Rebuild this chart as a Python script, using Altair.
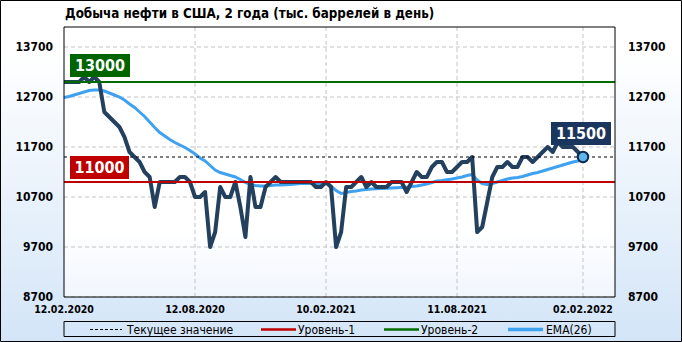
import altair as alt
import pandas as pd

# ---------------- data ----------------
start_date = "2020-02-12"
end_date = "2022-02-02"

production = [13000, 13000, 13000, 13000, 13100, 13000, 13100, 13000, 12400, 12300,
              12200, 12100, 11900, 11600, 11500, 11400, 11200, 11100, 10500, 11000,
              11000, 11000, 11000, 11100, 11100, 11000, 10700, 10700, 10800, 9700,
              10000, 10900, 10700, 10700, 11000, 10500, 9900, 11100, 10500, 10500,
              10900, 11000, 11100, 11000, 11000, 11000, 11000, 11000, 11000, 11000,
              10900, 10900, 11000, 10900, 9700, 10000, 10900, 10900, 11000, 11100,
              10900, 11000, 10900, 10900, 10900, 11000, 11000, 11000, 10800, 11000,
              11200, 11100, 11100, 11300, 11400, 11400, 11200, 11200, 11300, 11400,
              11400, 11500, 10000, 10100, 10600, 11100, 11300, 11300, 11400, 11300,
              11300, 11500, 11500, 11400, 11500, 11600, 11700, 11600, 11800, 11700,
              11700, 11700, 11600, 11500]

ema26 = [12690, 12710, 12740, 12770, 12800, 12830, 12840, 12840, 12820, 12780,
         12740, 12700, 12640, 12560, 12490, 12400, 12310, 12200, 12090, 11990,
         11920, 11850, 11790, 11740, 11690, 11630, 11560, 11480, 11420, 11330,
         11240, 11190, 11160, 11130, 11100, 11050, 10990, 10950, 10930, 10920,
         10920, 10930, 10940, 10940, 10945, 10950, 10960, 10970, 10970, 10970,
         10970, 10970, 10965, 10920, 10830, 10770, 10790, 10810, 10820, 10840,
         10850, 10860, 10865, 10870, 10875, 10880, 10885, 10890, 10895, 10910,
         10920, 10940, 10960, 10990, 11020, 11030, 11045, 11060, 11080, 11100,
         11130, 11150, 11040, 10970, 10950, 10970, 11000, 11030, 11060, 11080,
         11090, 11110, 11140, 11170, 11190, 11220, 11250, 11280, 11310, 11340,
         11370, 11400, 11420, 11450]

level_1 = 11000
level_2 = 13000
current_value = 11500

y_ticks = [8700, 9700, 10700, 11700, 12700, 13700]
x_label_text = ["12.02.2020", "12.08.2020", "10.02.2021", "11.08.2021", "02.02.2022"]
x_label_dates = ["2020-02-12", "2020-08-12", "2021-02-10", "2021-08-11", "2022-02-02"]
x_grid_dates = ["2020-08-12", "2021-02-10", "2021-08-11", "2022-02-02"]

title_text = "Добыча нефти  в США, 2 года (тыс. баррелей в день)"
legend_text = ["Текущее значение", "Уровень-1", "Уровень-2", "EMA(26)"]

# ---------------- table ----------------
dates = pd.date_range(start_date, end_date, freq="7D").strftime("%Y-%m-%d")
df = pd.DataFrame({"date": list(dates), "value": production, "ema": ema26})
last = df.iloc[[-1]]

W, H = 551, 270
FONT = "DejaVu Sans Condensed"
NAVY = "#24405f"
BLUE = "#3fa2f0"
RED = "#c00000"
GREEN = "#006c00"

xsc = alt.Scale(type="utc", domain=[alt.DateTime(year=2020, month=2, date=12, utc=True),
                                    alt.DateTime(year=2022, month=3, date=18, hours=11, utc=True)])
ysc = alt.Scale(domain=[8700, 14100], zero=False, nice=False)


def one():
    return alt.Data(values=[{"k": 0}])


X = alt.X("date:T", scale=xsc, axis=None)

# backgrounds
bg = alt.Chart(one()).mark_rect(
    fill=alt.LinearGradient(gradient="linear", x1=0, x2=0, y1=0, y2=1,
                            stops=[alt.GradientStop(color="#ffffff", offset=0),
                                   alt.GradientStop(color="#ffffff", offset=0.15),
                                   alt.GradientStop(color="#d3e5f8", offset=1)]),
    stroke="#000000", strokeWidth=1,
).encode(x=alt.value(-63.5), x2=alt.value(W + 66.5), y=alt.value(-26.5), y2=alt.value(H + 44.5))

plot_bg = alt.Chart(one()).mark_rect(
    fill=alt.LinearGradient(gradient="linear", x1=0, x2=0, y1=0, y2=1,
                            stops=[alt.GradientStop(color="#ffffff", offset=0),
                                   alt.GradientStop(color="#ffffff", offset=0.75),
                                   alt.GradientStop(color="#f1f6fd", offset=1)]),
).encode(x=alt.value(0), x2=alt.value(W), y=alt.value(0), y2=alt.value(H))

# gridlines
hgrid = alt.Chart(alt.Data(values=[{"v": v} for v in y_ticks])).mark_rule(
    color="#c4c4c4", strokeDash=[4, 3], strokeWidth=1
).encode(y=alt.Y("v:Q", scale=ysc, axis=None), x=alt.value(0), x2=alt.value(W))

vgrid = alt.Chart(alt.Data(values=[{"date": d} for d in x_grid_dates])).mark_rule(
    color="#c4c4c4", strokeDash=[4, 3], strokeWidth=1
).encode(x=X, y=alt.value(0), y2=alt.value(H))

base = alt.Chart(df)
ema_line = base.mark_line(color=BLUE, strokeWidth=3).encode(
    x=X, y=alt.Y("ema:Q", scale=ysc, axis=None))
main_line = base.mark_line(color=NAVY, strokeWidth=4, strokeJoin="round").encode(
    x=X, y=alt.Y("value:Q", scale=ysc, axis=None))

levels = alt.Data(values=[{"v": level_1, "c": RED}, {"v": level_2, "c": GREEN}])
level_rules = alt.Chart(levels).mark_rule(strokeWidth=2).encode(
    y=alt.Y("v:Q", scale=ysc, axis=None), x=alt.value(0), x2=alt.value(W),
    color=alt.Color("c:N", scale=None))

cur_rule = alt.Chart(alt.Data(values=[{"v": current_value}])).mark_rule(
    color="#000000", strokeDash=[3, 3], strokeWidth=1
).encode(y=alt.Y("v:Q", scale=ysc, axis=None), x=alt.value(0), x2=alt.value(W))

last_point = alt.Chart(last).mark_point(
    filled=True, size=110, fill="#5cb6ea", stroke="#0d2850", strokeWidth=2, opacity=1
).encode(x=X, y=alt.Y("value:Q", scale=ysc, axis=None))

# level badges
badge2_box = alt.Chart(alt.Data(values=[{"v": level_2}])).mark_rect(
    color="#006400", yOffset=-28, y2Offset=-5
).encode(y=alt.Y("v:Q", scale=ysc, axis=None), y2="v:Q", x=alt.value(6), x2=alt.value(66))
badge2_txt = alt.Chart(alt.Data(values=[{"v": level_2, "t": str(level_2)}])).mark_text(
    color="white", font=FONT, fontSize=16, fontWeight="bold", dy=-16.5, baseline="middle"
).encode(y=alt.Y("v:Q", scale=ysc, axis=None), x=alt.value(36), text="t:N")

badge1_box = alt.Chart(alt.Data(values=[{"v": level_1}])).mark_rect(
    color=RED, yOffset=-26, y2Offset=-3
).encode(y=alt.Y("v:Q", scale=ysc, axis=None), y2="v:Q", x=alt.value(6), x2=alt.value(65))
badge1_txt = alt.Chart(alt.Data(values=[{"v": level_1, "t": str(level_1)}])).mark_text(
    color="white", font=FONT, fontSize=16, fontWeight="bold", dy=-14.5, baseline="middle"
).encode(y=alt.Y("v:Q", scale=ysc, axis=None), x=alt.value(35.5), text="t:N")

badge_cur_box = alt.Chart(last).mark_rect(
    color="#1b365c", yOffset=-35, y2Offset=-12, xOffset=-32, x2Offset=28
).encode(x=X, x2="date:T", y=alt.Y("value:Q", scale=ysc, axis=None), y2="value:Q")
badge_cur_txt = alt.Chart(last).mark_text(
    color="white", font=FONT, fontSize=16, fontWeight="bold", dy=-23.5, dx=-2, baseline="middle"
).encode(x=X, y=alt.Y("value:Q", scale=ysc, axis=None), text="value:N")

frame = alt.Chart(one()).mark_rect(fill="transparent", stroke="#000000", strokeWidth=1).encode(
    x=alt.value(0), x2=alt.value(W), y=alt.value(0), y2=alt.value(H))

# axis labels
ylab = alt.Data(values=[{"v": v, "t": str(v)} for v in y_ticks])
ylab_left = alt.Chart(ylab).mark_text(
    align="right", baseline="middle", font=FONT, fontSize=12, fontWeight="bold", color="#000"
).encode(y=alt.Y("v:Q", scale=ysc, axis=None), x=alt.value(-11), text="t:N")
ylab_right = alt.Chart(ylab).mark_text(
    align="left", baseline="middle", font=FONT, fontSize=12, fontWeight="bold", color="#000"
).encode(y=alt.Y("v:Q", scale=ysc, axis=None), x=alt.value(W + 13), text="t:N")

xlab = alt.Chart(alt.Data(values=[{"date": d, "t": t} for d, t in zip(x_label_dates, x_label_text)])).mark_text(
    align="center", baseline="middle", font=FONT, fontSize=10.5, fontWeight="bold", color="#000"
).encode(x=X, y=alt.value(H + 13), text="t:N")

# legend
LY = 302.5
leg_box = alt.Chart(one()).mark_rect(fill="transparent", stroke="#000000", strokeWidth=1).encode(
    x=alt.value(0), x2=alt.value(W), y=alt.value(294.5), y2=alt.value(309.5))
leg_dash = alt.Chart(one()).mark_rule(color="#000000", strokeDash=[3, 2], strokeWidth=1).encode(
    x=alt.value(26), x2=alt.value(58), y=alt.value(LY))
leg_red = alt.Chart(one()).mark_rule(color=RED, strokeWidth=2.5).encode(
    x=alt.value(197), x2=alt.value(232), y=alt.value(LY))
leg_green = alt.Chart(one()).mark_rule(color=GREEN, strokeWidth=2.5).encode(
    x=alt.value(320), x2=alt.value(355), y=alt.value(LY))
leg_blue = alt.Chart(one()).mark_rule(color=BLUE, strokeWidth=3.5).encode(
    x=alt.value(444), x2=alt.value(479), y=alt.value(LY))
leg_txt = [
    alt.Chart(alt.Data(values=[{"t": t}])).mark_text(
        align="left", baseline="middle", font=FONT, fontSize=12, color="#000"
    ).encode(x=alt.value(xp), y=alt.value(LY), text="t:N")
    for t, xp in zip(legend_text, [63, 234, 357, 482])
]

title = alt.Chart(alt.Data(values=[{"t": title_text}])).mark_text(
    align="left", baseline="alphabetic", font=FONT, fontSize=13.3, fontWeight="bold", color="#000"
).encode(x=alt.value(1), y=alt.value(-9), text="t:N")

chart = alt.layer(
    bg, plot_bg, hgrid, vgrid, ema_line, main_line, level_rules, cur_rule, last_point,
    badge2_box, badge2_txt, badge1_box, badge1_txt, badge_cur_box, badge_cur_txt,
    frame, ylab_left, ylab_right, xlab,
    leg_box, leg_dash, leg_red, leg_green, leg_blue, *leg_txt, title,
).properties(
    width=W, height=H,
    autosize=alt.AutoSizeParams(type="none"),
    padding={"left": 64, "top": 27, "right": 67, "bottom": 45},
).configure_view(stroke="transparent")

chart.save("out.html", embed_options={"renderer": "svg", "actions": False})
